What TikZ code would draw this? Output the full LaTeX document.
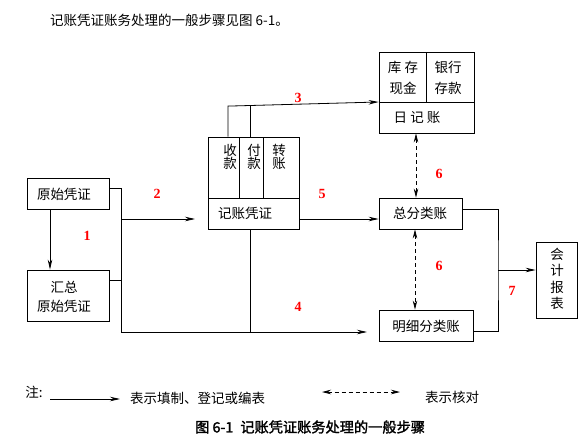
\documentclass[tikz,border=0pt]{standalone}
\usepackage{fontspec}
\setmainfont{Noto Sans CJK SC}
\newfontfamily\cjkb[FakeBold=1.8]{Noto Sans CJK SC}
\newfontfamily\numf{Liberation Serif}
\usetikzlibrary{arrows.meta}
\begin{document}
\begin{tikzpicture}[x=1pt,y=-1pt,
  every node/.style={font=\fontsize{13.5}{15}\selectfont},
  box/.style={draw,line width=0.8pt,inner sep=0pt},
  txt/.style={inner sep=0pt},
  lab/.style={inner sep=0pt,text=red,font=\fontsize{14}{15}\selectfont\numf\bfseries},
  ln/.style={line width=0.8pt},
  arr/.style={line width=0.8pt,-{Stealth[length=10pt,width=4.5pt]}},
  darr/.style={line width=0.8pt,dash pattern=on 4pt off 3pt,{Stealth[length=9pt,width=4.5pt]}-{Stealth[length=9pt,width=4.5pt]}}]
\useasboundingbox (0,0) rectangle (587,442);

% title line
\node[txt,anchor=west] (title) at (50,20) {记账凭证账务处理的一般步骤见图 6-1。};

% boxes
\node[box,minimum width=82pt,minimum height=31pt] (yszp) at (68,193.5) {};
\node[txt] (yszpt) at (64,194) {原始凭证};
\node[box,minimum width=82pt,minimum height=51pt] (hz) at (68,295.5) {};
\node[txt,align=center,font=\fontsize{13.5}{19}\selectfont] (hzt) at (64,296.5) {汇总\\原始凭证};

\node[box,minimum width=91pt,minimum height=92pt] (jzpz) at (253.5,183) {};
\draw[ln] (208,198) -- (299,198);
\draw[ln] (239,137) -- (239,198);
\draw[ln] (263,137) -- (263,198);
\node[txt,align=center,font=\fontsize{13.5}{13.5}\selectfont] (sk) at (230,157) {收\\款};
\node[txt,align=center,font=\fontsize{13.5}{13.5}\selectfont] (fk) at (254,157) {付\\款};
\node[txt,align=center,font=\fontsize{13.5}{13.5}\selectfont] (zz) at (279,157) {转\\账};
\node[txt] (jzpzt) at (245,213) {记账凭证};

\node[box,minimum width=95pt,minimum height=81pt] (rjz) at (426.5,92.5) {};
\draw[ln] (379,102) -- (474,102);
\draw[ln] (426,52) -- (426,102);
\node[txt,align=center,font=\fontsize{13.5}{21}\selectfont] (kc) at (403,77.5) {库 存\\现金};
\node[txt,align=center,font=\fontsize{13.5}{21}\selectfont] (yh) at (448,77.5) {银行\\存款};
\node[txt] (rjzt) at (417,118) {日 记 账};

\node[box,minimum width=83pt,minimum height=31pt] (zfl) at (420.5,213.5) {};
\node[txt] (zflt) at (420,213.5) {总分类账};
\node[box,minimum width=94pt,minimum height=31pt] (mxfl) at (426,325.5) {};
\node[txt] (mxflt) at (426,326) {明细分类账};
\node[box,minimum width=41pt,minimum height=76pt] (kjbb) at (556.5,280) {};
\node[txt,align=center,font=\fontsize{13.5}{16.5}\selectfont] (kjbbt) at (557,279) {会\\计\\报\\表};

% connectors
\coordinate (j1) at (121,188);
\coordinate (j2) at (121,219);
\coordinate (j4) at (121,332);
\coordinate (a2) at (195,219);
\coordinate (a4) at (367,332);
\draw[arr] ([xshift=-18pt]yszp.south) -- ([xshift=-18pt]hz.north);
\draw[ln] ([yshift=5.5pt]yszp.east) -- (j1) -- (j4);
\draw[ln] ([yshift=15.5pt]hz.east) -- ([yshift=15.5pt]hz.east -| j1);
\draw[arr] (j2) -- (a2);
\draw[arr] (j4) -- (a4);
\draw[ln] ([xshift=-3.5pt]jzpz.south) -- ([xshift=-3.5pt]jzpz.south |- j4);
\draw[arr] ([yshift=-36pt]jzpz.east) -- ([yshift=-5.5pt]zfl.west);
\draw[arr] ([xshift=-25.5pt]jzpz.north) -- ++(0,-30.5) -- ([yshift=-9.5pt]rjz.west);
\draw[ln] ([xshift=-3.5pt]jzpz.north) -- ++(0,-31.3);
\draw[darr] ([xshift=-10.5pt]rjz.south) -- ([xshift=-4.5pt]zfl.north);
\draw[darr] ([xshift=-5.5pt]zfl.south) -- ([xshift=-11pt]mxfl.north);
\coordinate (c7) at (498,270);
\draw[ln] ([yshift=4.5pt]zfl.east) -| (c7) |- ([yshift=-5.5pt]mxfl.east);
\draw[arr] (c7) -- ([yshift=10pt]kjbb.west);

% step labels
\node[lab] (n1) at (87,236) {1};
\node[lab] (n2) at (157,194) {2};
\node[lab] (n3) at (298,98) {3};
\node[lab] (n4) at (298,307) {4};
\node[lab] (n5) at (322,194) {5};
\node[lab] (n6a) at (439,174) {6};
\node[lab] (n6b) at (439,266) {6};
\node[lab] (n7) at (512,291) {7};

% legend
\node[txt] (zhu) at (34,392) {注:};
\coordinate (l1a) at (50,399);
\coordinate (l1b) at (120,399);
\draw[arr] (l1a) -- (l1b);
\node[txt,anchor=west] (l1t) at (130,398) {表示填制、登记或编表};
\coordinate (l2a) at (322,392);
\coordinate (l2b) at (400,392);
\draw[darr] (l2a) -- (l2b);
\node[txt,anchor=west] (l2t) at (425,397) {表示核对};

\node[txt,anchor=west,font=\fontsize{14.2}{15}\cjkb] (cap) at (195,427) {图 6-1\hspace{0.5em}记账凭证账务处理的一般步骤};
\end{tikzpicture}
\end{document}
